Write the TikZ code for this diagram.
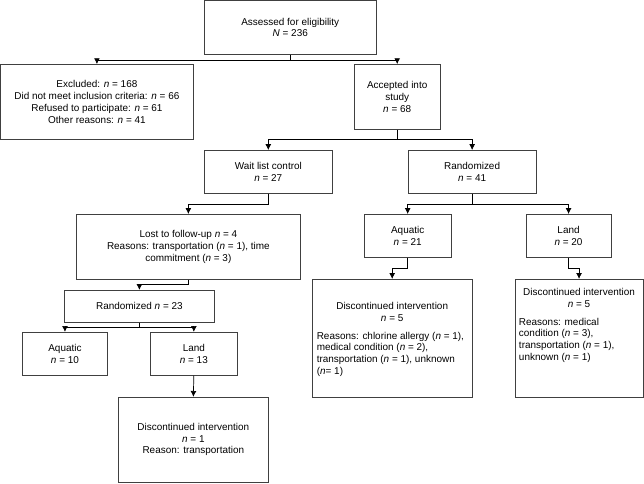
\documentclass[tikz,border=0pt]{standalone}
\usepackage{fontspec}
\setmainfont{Liberation Sans}
\usepackage{tikz}
\usetikzlibrary{arrows.meta}
\tikzstyle{box}=[draw=black!75, line width=0.6pt, inner sep=0pt, align=center, font=\fontsize{8.5pt}{10pt}\selectfont]
\tikzstyle{note}=[inner sep=0pt, font=\fontsize{8.5pt}{10pt}\selectfont]
\tikzstyle{link}=[line width=0.6pt, -{Latex[length=5pt,width=5pt]}]

\begin{document}
\begin{tikzpicture}
\useasboundingbox (-0.015,0.015) rectangle (19.32,-14.49);
\node[box, minimum width=5.16cm, minimum height=1.62cm] (assess) at (8.70,-0.81) {Assessed for eligibility\\ \textit{N} = 236};
\node[box, minimum width=5.79cm, minimum height=2.25cm] (excl) at (2.895,-3.045) {Excluded: \textit{n} = 168\\ Did not meet inclusion criteria: \textit{n} = 66\\ Refused to participate: \textit{n} = 61\\ Other reasons: \textit{n} = 41};
\node[box, minimum width=2.58cm, minimum height=1.95cm] (acc) at (11.91,-2.895) {Accepted into\\ study\\ \textit{n} = 68};
\node[box, minimum width=3.84cm, minimum height=1.29cm] (wait) at (8.04,-5.145) {Wait list control\\ \textit{n} = 27};
\node[box, minimum width=3.84cm, minimum height=1.29cm] (rand) at (14.16,-5.145) {Randomized\\ \textit{n} = 41};
\node[box, minimum width=6.72cm, minimum height=1.95cm] (lost) at (5.64,-7.395) {Lost to follow-up \textit{n} = 4\\ Reasons: transportation (\textit{n} = 1), time\\ commitment (\textit{n} = 3)};
\node[box, minimum width=2.61cm, minimum height=1.29cm] (aqb) at (12.225,-7.065) {Aquatic\\ \textit{n} = 21};
\node[box, minimum width=2.55cm, minimum height=1.29cm] (landb) at (17.055,-7.065) {Land\\ \textit{n} = 20};
\node[box, minimum width=4.5cm, minimum height=0.96cm] (randa) at (4.17,-9.18) {Randomized \textit{n} = 23};
\node[box, minimum width=2.55cm, minimum height=1.29cm] (aqa) at (1.935,-10.605) {Aquatic\\ \textit{n} = 10};
\node[box, minimum width=2.61cm, minimum height=1.29cm] (landa) at (5.805,-10.605) {Land\\ \textit{n} = 13};
\node[box, minimum width=4.5cm, minimum height=2.55cm] (disca) at (5.79,-13.185) {Discontinued intervention\\ \textit{n} = 1\\ Reason: transportation};
\node[box, minimum width=4.8cm, minimum height=3.54cm] (discb) at (11.76,-10.14) {};
\node[box, minimum width=3.84cm, minimum height=3.54cm] (discc) at (17.37,-10.14) {};
\node[note, anchor=north, align=center] (discbhead) at ([yshift=-0.69cm]discb.north) {Discontinued intervention\\ \textit{n} = 5};
\node[note, anchor=north west, align=left] (discbwhy) at ([xshift=0.14cm,yshift=-0.31cm]discbhead.south -| discb.west) {Reasons: chlorine allergy (\textit{n} = 1),\\ medical condition (\textit{n} = 2),\\ transportation (\textit{n} = 1), unknown\\ (\textit{n}= 1)};
\node[note, anchor=north, align=center] (dischead) at ([yshift=-0.27cm]discc.north) {Discontinued intervention\\ \textit{n} = 5};
\node[note, anchor=north west, align=left] (discwhy) at ([xshift=0.12cm,yshift=-0.31cm]dischead.south -| discc.west) {Reasons: medical\\ condition (\textit{n} = 3),\\ transportation (\textit{n} = 1),\\ unknown (\textit{n} = 1)};
\draw[link] (assess.south) -- ++(0,-0.18) -| (excl.north);
\draw[link] (assess.south) -- ++(0,-0.18) -| (acc.north);
\draw[link] (acc.south) -- ++(0,-0.3) -| (wait.north);
\draw[link] (acc.south) -- ++(0,-0.3) -| (rand.north);
\draw[link] (wait.south) -- ++(0,-0.33) -| (lost.north);
\draw[link] (rand.south) -- ++(0,-0.33) -| (aqb.north);
\draw[link] (rand.south) -- ++(0,-0.33) -| (landb.north);
\draw[link] (lost.south) -- ++(0,-0.15) -| (randa.north);
\draw[link] (randa.south) -- ++(0,-0.15) -| (aqa.north);
\draw[link] (randa.south) -- ++(0,-0.15) -| (landa.north);
\draw[link] (landa.south) -- (disca.north);
\draw[link] (aqb.south) -- ++(0,-0.33) -| (discb.north);
\draw[link] (landb.south) -- ++(0,-0.33) -| (discc.north);
\end{tikzpicture}
\end{document}
